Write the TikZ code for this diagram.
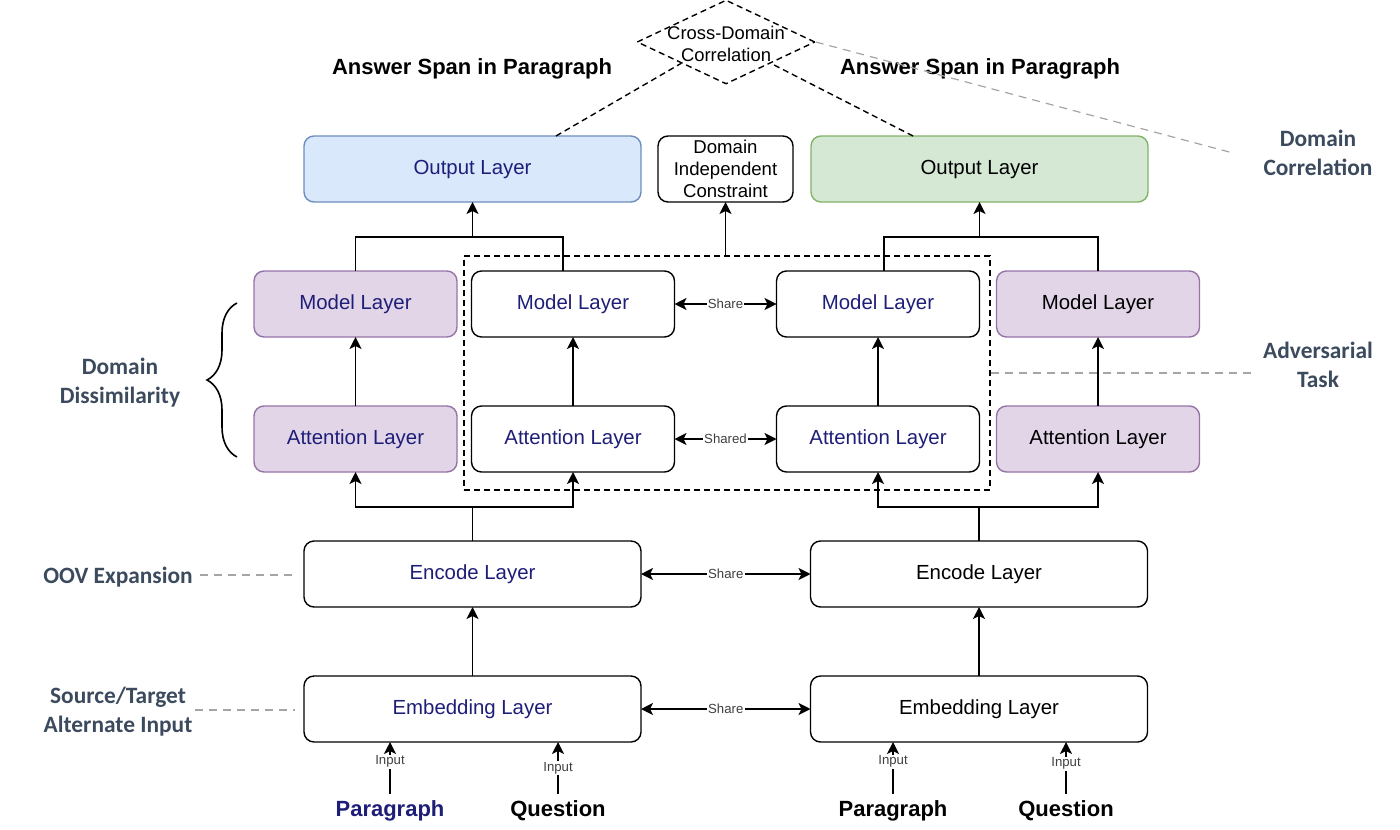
\documentclass[tikz,border=0pt]{standalone}
\usepackage{fontspec}
\setmainfont{Liberation Sans}
\newfontfamily\calib{Carlito}
\usetikzlibrary{arrows.meta,shapes.geometric,decorations.pathreplacing,calc}
\definecolor{navy}{RGB}{30,30,120}
\definecolor{slate}{RGB}{60,74,94}
\definecolor{bluefill}{RGB}{218,232,252}
\definecolor{blueline}{RGB}{108,142,191}
\definecolor{greenfill}{RGB}{213,232,212}
\definecolor{greenline}{RGB}{130,179,102}
\definecolor{purplefill}{RGB}{225,213,231}
\definecolor{purpleline}{RGB}{150,115,166}
\definecolor{graydash}{RGB}{165,165,165}
\tikzset{
  box/.style={draw, rounded corners=5pt, line width=0.7pt, inner sep=0pt, outer sep=0pt,
    font=\fontsize{10.2}{12}\selectfont, align=center},
  widebox/.style={box, minimum width=168.5pt, minimum height=33pt},
  midbox/.style={box, minimum width=101.5pt, minimum height=33pt},
  purplebox/.style={midbox, fill=purplefill, draw=purpleline},
  conn/.style={line width=0.8pt},
  arr/.style={conn, -{Stealth[length=6pt,width=6pt,inset=1.5pt]}},
  dbl/.style={conn, {Stealth[length=6pt,width=6pt,inset=1.5pt]}-{Stealth[length=6pt,width=6pt,inset=1.5pt]}},
  sharelbl/.style={fill=white, inner sep=0.6pt, font=\fontsize{6.6}{7}\selectfont, text=black!75},
  notelbl/.style={font=\calib\bfseries\fontsize{11.7}{14.5}\selectfont, text=slate, align=center},
  gdash/.style={draw=graydash, dash pattern=on 4pt off 3pt, line width=0.6pt},
  titlelbl/.style={font=\bfseries\fontsize{11}{13}\selectfont},
  bdash/.style={dash pattern=on 3pt off 2pt, line width=0.7pt}
}
\begin{document}
\begin{tikzpicture}[x=0.5pt,y=-0.5pt]
\useasboundingbox (0,0) rectangle (1400,829);

% top row
\node[widebox, fill=bluefill, draw=blueline, text=navy] (outL) at (472.5,169) {Output Layer};
\node[box, minimum width=67.5pt, minimum height=33pt, font=\fontsize{9.3}{11}\selectfont] (dic) at (725.5,169) {Domain\\Independent\\Constraint};
\node[widebox, fill=greenfill, draw=greenline] (outR) at (979.5,169) {Output Layer};

% model row
\node[purplebox, text=navy] (mpl) at (355.5,304) {Model Layer};
\node[midbox, text=navy] (msl) at (573,304) {Model Layer};
\node[midbox, text=navy] (msr) at (878,304) {Model Layer};
\node[purplebox] (mpr) at (1098,304) {Model Layer};

% attention row
\node[purplebox, text=navy] (apl) at (355.5,439) {Attention Layer};
\node[midbox, text=navy] (asl) at (573,439) {Attention Layer};
\node[midbox, text=navy] (asr) at (878,439) {Attention Layer};
\node[purplebox] (apr) at (1098,439) {Attention Layer};

% shared region
\node[draw, bdash, minimum width=263pt, minimum height=117pt, inner sep=0pt] (shr) at (727,373) {};

% encode / embedding
\node[widebox, text=navy] (encL) at (472.5,574) {Encode Layer};
\node[widebox] (encR) at (979,574) {Encode Layer};
\node[widebox, text=navy] (embL) at (472.5,709) {Embedding Layer};
\node[widebox] (embR) at (979,709) {Embedding Layer};

% diamond
\node[diamond, draw, bdash, minimum width=89pt, minimum height=42pt, inner sep=0pt] (cdc) at (726,42) {};
\node[font=\fontsize{9.2}{11}\selectfont, align=center, inner sep=0pt] (cdct) at ([yshift=-1pt]cdc.center) {Cross-Domain\\Correlation};

% answer span titles
\node[titlelbl] (asL) at (472,69) {Answer Span in Paragraph};
\node[titlelbl] (asR) at (980,69) {Answer Span in Paragraph};

% dashed lines to diamond
\coordinate (dL) at (556,0);
\coordinate (dR) at (913,0);
\draw[bdash] (outL.north -| dL) -- (cdc.south west);
\draw[bdash] (outR.north -| dR) -- (cdc.south east);

% side notes
\node[notelbl] (dcor) at (1318,153) {Domain\\Correlation};
\coordinate (dcorE) at (1233,153);
\draw[gdash] (cdc.east) -- (dcorE);

\node[notelbl] (adv) at (1318,365) {Adversarial\\Task};
\coordinate (advE) at (1253,373);
\draw[gdash] (shr.east) -- (advE);

\node[notelbl] (dds) at (120,383) {Domain\\Dissimilarity};
\coordinate (brB) at (237,457);
\coordinate (brT) at (237,303);
\draw[line width=0.8pt, decorate, decoration={brace, amplitude=15pt, aspect=0.5}] (brB) -- (brT);

\node[notelbl] (oov) at (118,577) {OOV Expansion};
\coordinate (oovE) at (295,575);
\draw[gdash] (oov.east |- oovE) -- (oovE);

\node[notelbl] (sti) at (118,712) {Source/Target\\Alternate Input};
\coordinate (stiS) at (195,710);
\coordinate (stiE) at (295,710);
\draw[gdash] (stiS) -- (stiE);

% model -> output
\coordinate (kL) at (563,237);
\draw[conn] (mpl.north) |- (kL) -- (kL |- msl.north);
\draw[arr] (outL.south |- kL) -- (outL.south);
\coordinate (kR) at (884,237);
\draw[conn] (kR |- msr.north) -- (kR) -| (mpr.north);
\draw[arr] (outR.south |- kR) -- (outR.south);

% shared -> domain independent constraint
\draw[arr] (shr.north -| dic.south) -- (dic.south);

% attention -> model
\draw[arr] (apl.north) -- (mpl.south);
\draw[arr] (asl.north) -- (msl.south);
\draw[arr] (asr.north) -- (msr.south);
\draw[arr] (apr.north) -- (mpr.south);

% encode -> attention
\coordinate (jL) at (473,507);
\draw[conn] (encL.north) -- (encL.north |- jL);
\draw[arr] (encL.north |- jL) -| (apl.south);
\draw[arr] (encL.north |- jL) -| (asl.south);
\coordinate (jR) at (979,507);
\draw[conn] (encR.north) -- (encR.north |- jR);
\draw[arr] (encR.north |- jR) -| (asr.south);
\draw[arr] (encR.north |- jR) -| (apr.south);

% embedding -> encode
\draw[arr] (embL.north) -- (encL.south);
\draw[arr] (embR.north) -- (encR.south);

% share arrows
\draw[dbl] (msl.east) -- node[sharelbl] {Share} (msr.west);
\draw[dbl] (asl.east) -- node[sharelbl] {Shared} (asr.west);
\draw[dbl] (encL.east) -- node[sharelbl] {Share} (encR.west);
\draw[dbl] (embL.east) -- node[sharelbl] {Share} (embR.west);

% inputs
\node[titlelbl, text=navy] (pL) at (390,811) {Paragraph};
\node[titlelbl] (qL) at (558,811) {Question};
\node[titlelbl] (pR) at (893,811) {Paragraph};
\node[titlelbl] (qR) at (1066,811) {Question};
\draw[arr] (pL.north) -- node[sharelbl, pos=0.62] {Input} (pL.north |- embL.south);
\draw[arr] (qL.north) -- node[sharelbl, pos=0.5] {Input} (qL.north |- embL.south);
\draw[arr] (pR.north) -- node[sharelbl, pos=0.62] {Input} (pR.north |- embR.south);
\draw[arr] (qR.north) -- node[sharelbl, pos=0.58] {Input} (qR.north |- embR.south);
\end{tikzpicture}
\end{document}
